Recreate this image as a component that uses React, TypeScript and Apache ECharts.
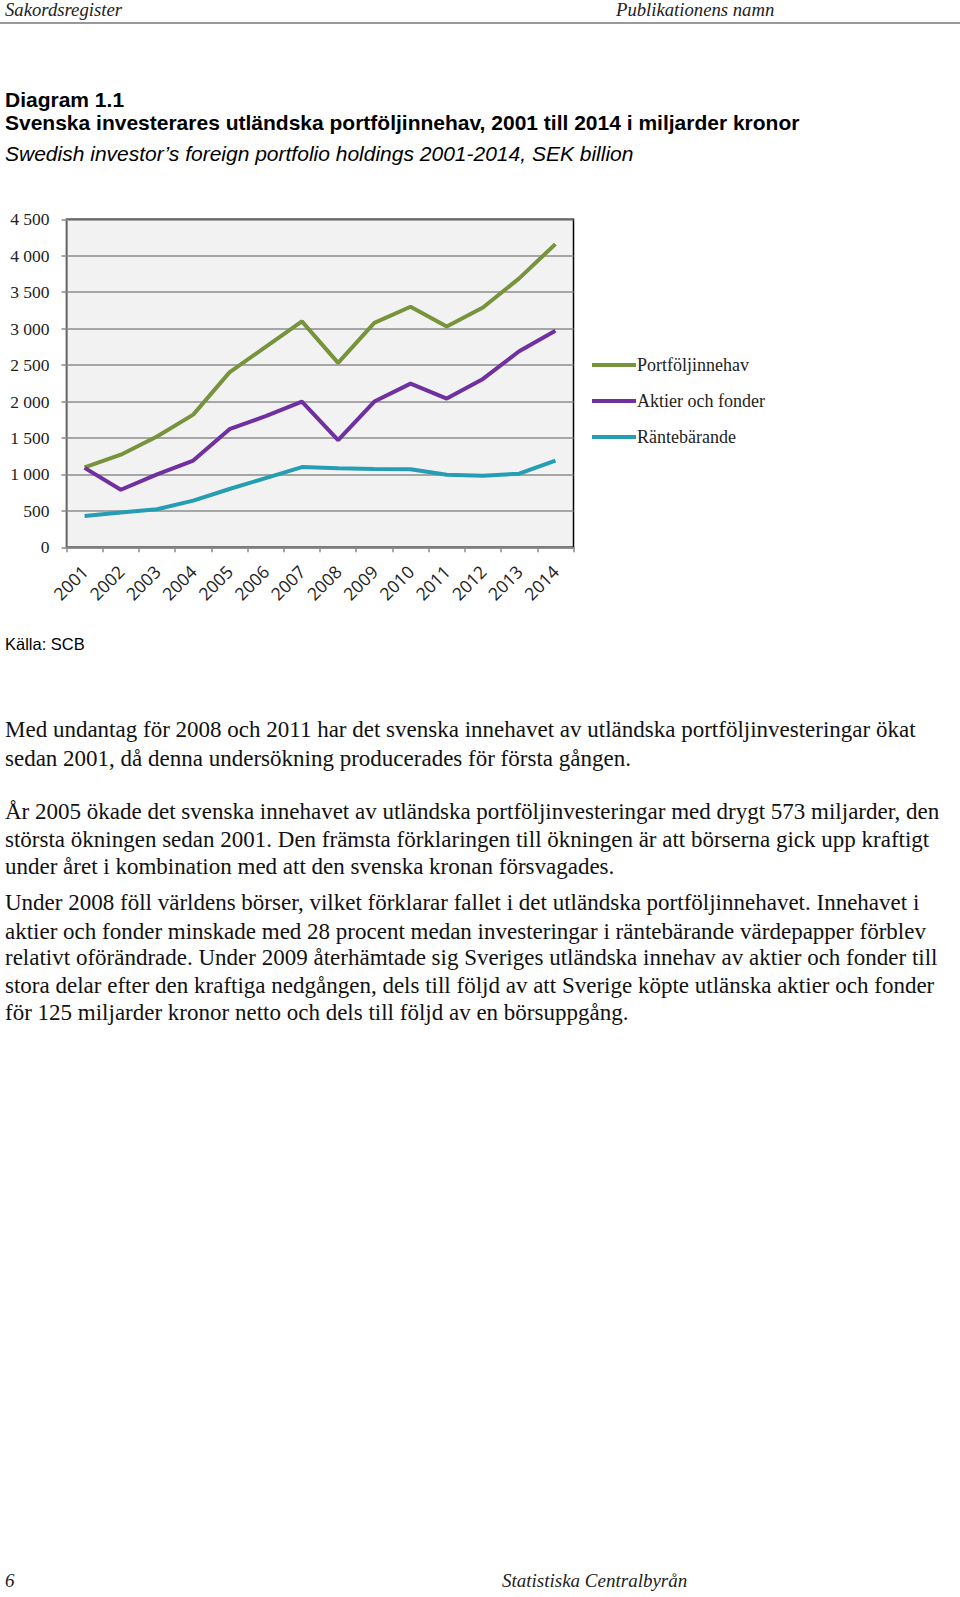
import React, { useEffect, useRef } from "react";
import * as echarts from "echarts";

const years = ["2001", "2002", "2003", "2004", "2005", "2006", "2007", "2008", "2009", "2010", "2011", "2012", "2013", "2014"];
const portfolio = [1095, 1270, 1520, 1820, 2400, 2750, 3100, 2530, 3080, 3300, 3030, 3290, 3690, 4160];
const equity = [1090, 790, 1000, 1190, 1620, 1800, 2000, 1470, 2000, 2245, 2040, 2310, 2690, 2970];
const interest = [428, 478, 522, 640, 800, 950, 1100, 1085, 1075, 1070, 995, 980, 1010, 1190];
const seriesNames = ["Portföljinnehav", "Aktier och fonder", "Räntebärande"];
const seriesColors = ["#77933c", "#7030a0", "#259db5"];

const bodyLines: string[] = [
  "Med undantag för 2008 och 2011 har det svenska innehavet av utländska portföljinvesteringar ökat",
  "sedan 2001, då denna undersökning producerades för första gången.",
  "År 2005 ökade det svenska innehavet av utländska portföljinvesteringar med drygt 573 miljarder, den",
  "största ökningen sedan 2001. Den främsta förklaringen till ökningen är att börserna gick upp kraftigt",
  "under året i kombination med att den svenska kronan försvagades.",
  "Under 2008 föll världens börser, vilket förklarar fallet i det utländska portföljinnehavet. Innehavet i",
  "aktier och fonder minskade med 28 procent medan investeringar i räntebärande värdepapper förblev",
  "relativt oförändrade. Under 2009 återhämtade sig Sveriges utländska innehav av aktier och fonder till",
  "stora delar efter den kraftiga nedgången, dels till följd av att Sverige köpte utlänska aktier och fonder",
  "för 125 miljarder kronor netto och dels till följd av en börsuppgång.",
];
const bodyTops = [716, 744.5, 797.5, 826, 852.5, 889, 917.5, 944, 971.5, 999];

function Chart() {
  const ref = useRef<HTMLDivElement>(null);
  useEffect(() => {
    if (!ref.current) return;
    const chart = echarts.init(ref.current, null, { renderer: "svg" });
    const dataSets = [portfolio, equity, interest];
    chart.setOption({
      animation: false,
      grid: {
        left: 66.5, top: 19.3, width: 507, height: 328,
        show: true, backgroundColor: "#f2f2f2", borderColor: "#000", borderWidth: 1.5,
      },
      legend: {
        orient: "vertical", left: 587, top: 151, itemGap: 18,
        itemWidth: 44, itemHeight: 4, icon: "rect",
        textStyle: { fontFamily: "Liberation Serif", fontSize: 18, color: "#222", padding: [0, 0, 0, -4] },
        data: seriesNames,
      },
      xAxis: {
        type: "category", data: years, boundaryGap: true,
        axisLine: { lineStyle: { color: "#8a8a8a", width: 1.5 } },
        axisTick: { show: true, interval: 0, length: 5, lineStyle: { color: "#8a8a8a", width: 1.5 } },
        axisLabel: { rotate: 45, interval: 0, margin: 21, fontFamily: "Open Sans", fontSize: 17.5, color: "#222" },
      },
      yAxis: {
        type: "value", min: 0, max: 4500, interval: 500,
        axisLine: { show: true, lineStyle: { color: "#8a8a8a", width: 1.5 } },
        axisTick: { show: true, length: 5, lineStyle: { color: "#8a8a8a", width: 1.5 } },
        splitLine: { lineStyle: { color: "#8c8c8c", width: 1.5 } },
        axisLabel: {
          margin: 17, fontFamily: "Liberation Serif", fontSize: 17.5, color: "#222",
          formatter: (v: number) => String(v).replace(/\B(?=(\d{3})+(?!\d))/g, " "),
        },
      },
      series: seriesNames.map((n, i) => ({
        name: n, type: "line", data: dataSets[i], symbol: "none",
        lineStyle: { width: 4, color: seriesColors[i] }, itemStyle: { color: seriesColors[i] },
      })),
    });
    return () => chart.dispose();
  }, []);
  return <div ref={ref} style={{ position: "absolute", left: 0, top: 200, width: 960, height: 430 }} />;
}

export default function App() {
  useEffect(() => {
    document.body.style.margin = "0";
  }, []);
  const abs = (top: number, left: number, extra: React.CSSProperties = {}): React.CSSProperties => ({
    position: "absolute", top, left, whiteSpace: "nowrap", ...extra,
  });
  const serifBody: React.CSSProperties = { fontFamily: "Liberation Serif", fontSize: 23, lineHeight: "27px", color: "#111" };
  const italicHead: React.CSSProperties = { fontFamily: "Liberation Serif", fontStyle: "italic", fontSize: 18.7, lineHeight: "20px", color: "#222" };
  const titleBold: React.CSSProperties = { fontFamily: "Liberation Sans", fontWeight: "bold", fontSize: 21, lineHeight: "24px", color: "#000" };
  return (
    <div style={{ position: "relative", width: 960, height: 1597, background: "#fff", overflow: "hidden" }}>
      <div style={abs(0, 5, italicHead)}>Sakordsregister</div>
      <div style={abs(0, 616, italicHead)}>Publikationens namn</div>
      <div style={{ position: "absolute", top: 22, left: 0, width: 960, height: 2, background: "#999" }} />
      <div style={abs(88, 5, titleBold)}>Diagram 1.1</div>
      <div style={abs(111, 5, titleBold)}>Svenska investerares utländska portföljinnehav, 2001 till 2014 i miljarder kronor</div>
      <div style={abs(142, 5, { fontFamily: "Liberation Sans", fontStyle: "italic", fontSize: 21, lineHeight: "24px", color: "#000" })}>Swedish investor’s foreign portfolio holdings 2001-2014, SEK billion</div>
      <Chart />
      <div style={abs(635, 5, { fontFamily: "Liberation Sans", fontSize: 16.5, lineHeight: "18px", color: "#000" })}>Källa: SCB</div>
      {bodyLines.map((t, i) => (
        <div key={i} style={abs(bodyTops[i], 5, serifBody)}>{t}</div>
      ))}
      <div style={abs(1571, 5, { ...italicHead, fontSize: 19 })}>6</div>
      <div style={abs(1571, 502, { ...italicHead, fontSize: 19 })}>Statistiska Centralbyrån</div>
    </div>
  );
}
